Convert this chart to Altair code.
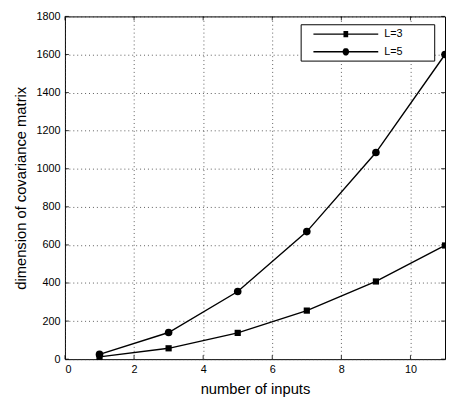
import altair as alt
import pandas as pd

x_inputs = [1, 3, 5, 7, 9, 11]
l3_values = [12, 57, 138, 255, 408, 597]
l5_values = [25, 140, 355, 670, 1085, 1600]
series_names = ["L=3", "L=5"]
x_ticks = [0, 2, 4, 6, 8, 10]
y_ticks = [0, 200, 400, 600, 800, 1000, 1200, 1400, 1600, 1800]

W, H = 387, 349
FONT = "Liberation Sans"

df = pd.DataFrame({
    "x": x_inputs * 2,
    "y": l3_values + l5_values,
    "series": [series_names[0]] * len(x_inputs) + [series_names[1]] * len(x_inputs),
})
xt = pd.DataFrame({"v": x_ticks})
yt = pd.DataFrame({"v": y_ticks})

xscale = alt.Scale(domain=[0, 11], nice=False, zero=False)
yscale = alt.Scale(domain=[0, 1800], nice=False)

xaxis = alt.Axis(values=x_ticks, title="number of inputs", grid=True, gridDash=[1, 3],
                 gridColor="#333", gridWidth=0.8, ticks=False, domain=False, format="d",
                 labelOverlap=False,
                 labelFont=FONT, labelFontSize=11, labelColor="#000", labelPadding=5,
                 titleFont=FONT, titleFontSize=15, titleFontWeight="normal", titleColor="#000",
                 titlePadding=7)
yaxis = alt.Axis(values=y_ticks, title="dimension of covariance matrix", grid=True, gridDash=[1, 3],
                 gridColor="#333", gridWidth=0.8, ticks=False, domain=False, format="d",
                 labelOverlap=False,
                 labelFont=FONT, labelFontSize=11, labelColor="#000", labelPadding=5,
                 titleFont=FONT, titleFontSize=15, titleFontWeight="normal", titleColor="#000",
                 titlePadding=8)

base = alt.Chart(df)

lines = base.mark_line(color="black", strokeWidth=1.4).encode(
    x=alt.X("x:Q", scale=xscale, axis=xaxis),
    y=alt.Y("y:Q", scale=yscale, axis=yaxis),
    detail="series:N",
)

points = base.mark_point(filled=True, color="black", opacity=1).encode(
    x=alt.X("x:Q", scale=xscale, axis=xaxis),
    y=alt.Y("y:Q", scale=yscale, axis=yaxis),
    shape=alt.Shape("series:N", scale=alt.Scale(domain=series_names, range=["square", "circle"]), legend=None),
    size=alt.Size("series:N", scale=alt.Scale(domain=series_names, range=[40, 60]), legend=None),
)

# legend symbols: line with a solid marker in the middle (1 unit = 6px)
sq = ("M0.5,0H11.5"
      "M5.6,-0.4H6.4M5.6,-0.2H6.4M5.6,0H6.4M5.6,0.2H6.4M5.6,0.4H6.4")
ci = ("M0.5,0H11.5"
      "M5.45,0H6.55M5.47,-0.15H6.53M5.47,0.15H6.53M5.54,-0.3H6.46M5.54,0.3H6.46"
      "M5.65,-0.42H6.35M5.65,0.42H6.35M5.77,-0.5H6.23M5.77,0.5H6.23")
legend_layer = base.transform_filter("false").mark_point(
    filled=False, stroke="black", strokeWidth=1.4, opacity=1
).encode(
    x=alt.X("x:Q", scale=xscale, axis=xaxis),
    y=alt.Y("y:Q", scale=yscale, axis=yaxis),
    shape=alt.Shape("series:N", scale=alt.Scale(domain=series_names, range=[sq, ci]),
                    legend=alt.Legend(title="\u2003", titleOrient="right", titlePadding=29,
                                      titleFontSize=11,
                                      orient="none", legendX=240, legendY=8,
                                      symbolSize=144, symbolStrokeWidth=1.4,
                                      symbolStrokeColor="black",
                                      labelFont=FONT, labelFontSize=11, labelColor="#000",
                                      labelOffset=68, rowPadding=5, padding=3,
                                      strokeColor="black", fillColor="white")),
)

tick_len = 4
xb = alt.Chart(xt).mark_rule(color="black", strokeWidth=0.8).encode(
    x=alt.X("v:Q", scale=xscale, axis=xaxis), y=alt.value(H), y2=alt.value(H - tick_len))
xtop = alt.Chart(xt).mark_rule(color="black", strokeWidth=0.8).encode(
    x=alt.X("v:Q", scale=xscale, axis=xaxis), y=alt.value(0), y2=alt.value(tick_len))
yl = alt.Chart(yt).mark_rule(color="black", strokeWidth=0.8).encode(
    y=alt.Y("v:Q", scale=yscale, axis=yaxis), x=alt.value(0), x2=alt.value(tick_len))
yr = alt.Chart(yt).mark_rule(color="black", strokeWidth=0.8).encode(
    y=alt.Y("v:Q", scale=yscale, axis=yaxis), x=alt.value(W), x2=alt.value(W - tick_len))

chart = alt.layer(lines, points, xb, xtop, yl, yr, legend_layer).resolve_scale(
    shape="independent", size="independent"
).properties(
    width=W, height=H,
    autosize=alt.AutoSizeParams(type="none"),
    padding={"left": 58, "top": 5, "right": 1, "bottom": 37},
    background="white",
).configure_view(stroke="black", strokeWidth=1)

chart.save("out.html", embed_options={"renderer": "svg", "actions": False})
